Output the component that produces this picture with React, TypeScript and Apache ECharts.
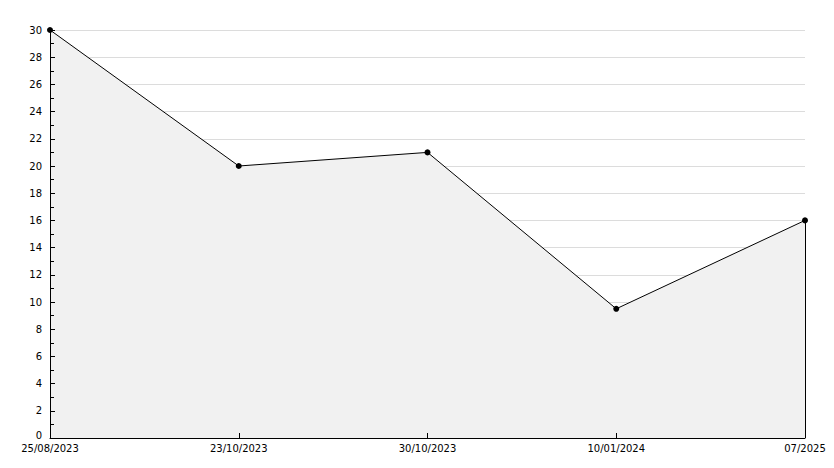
import React, { useEffect, useRef } from "react";
import * as echarts from "echarts";

const categories = ["25/08/2023", "23/10/2023", "30/10/2023", "10/01/2024", "07/2025"];
const values = [30, 20, 21, 9.5, 16];
const yMin = 0;
const yMax = 30;
const yInterval = 2;

export default function App() {
  const ref = useRef<HTMLDivElement>(null);
  useEffect(() => {
    if (!ref.current) return;
    const chart = echarts.init(ref.current, undefined, { renderer: "svg" });
    const lastIdx = categories.length - 1;
    const font = { color: "#000", fontSize: 10, fontFamily: "DejaVu Sans" };
    chart.setOption({
      animation: false,
      backgroundColor: "#ffffff",
      grid: { left: 50, right: 29, top: 30, bottom: 30, containLabel: false },
      xAxis: [
        {
          type: "category",
          data: categories,
          boundaryGap: false,
          axisLine: { show: false },
          axisTick: { show: false },
          axisLabel: { ...font, margin: 5, showMinLabel: true, showMaxLabel: true, interval: 0 },
          splitLine: { show: false },
        },
        {
          type: "category",
          data: categories,
          boundaryGap: false,
          position: "bottom",
          z: 10,
          axisLine: { show: true, onZero: false, lineStyle: { color: "#000", width: 1 } },
          axisTick: { show: true, inside: true, length: 5, interval: 0, lineStyle: { color: "#000" } },
          axisLabel: { show: false },
          splitLine: { show: false },
        },
      ],
      yAxis: [
        {
          type: "value",
          min: yMin,
          max: yMax,
          interval: yInterval,
          axisLine: { show: false },
          axisTick: { show: false },
          axisLabel: {
            ...font,
            margin: 8,
            formatter: (v: number) => (v === 0 ? "{z|0}" : String(v)),
            rich: { z: { ...font, padding: [0, 0, 6, 0] } },
          },
          splitLine: { show: true, lineStyle: { color: "#dcdcdc", width: 1 } },
        },
        {
          type: "value",
          min: yMin,
          max: yMax,
          interval: yInterval,
          position: "left",
          z: 10,
          axisLine: { show: true, onZero: false, lineStyle: { color: "#000", width: 1 } },
          axisTick: { show: true, inside: true, length: 5, lineStyle: { color: "#000" } },
          minorTick: { show: true, splitNumber: 2, length: 4, lineStyle: { color: "#000" } },
          axisLabel: { show: false },
          splitLine: { show: false },
        },
      ],
      series: [
        {
          type: "line",
          xAxisIndex: 0,
          yAxisIndex: 0,
          data: values,
          symbol: "circle",
          symbolSize: 6,
          z: 5,
          itemStyle: { color: "#000" },
          lineStyle: { color: "#000", width: 1 },
          areaStyle: { color: "#f1f1f1", opacity: 1 },
          markLine: {
            silent: true,
            symbol: "none",
            label: { show: false },
            lineStyle: { color: "#000", width: 1, type: "solid" },
            data: [
              [
                { coord: [categories[lastIdx], yMin] },
                { coord: [categories[lastIdx], values[lastIdx]] },
              ],
            ],
          },
        },
      ],
    });
    return () => chart.dispose();
  }, []);
  return <div ref={ref} style={{ width: 834, height: 468, position: "absolute", left: 0, top: 0 }} />;
}
